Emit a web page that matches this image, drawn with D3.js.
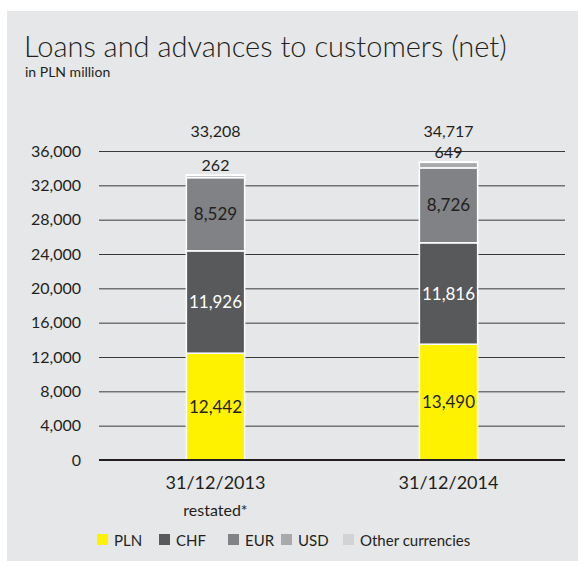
<!DOCTYPE html>
<html>
<head>
<meta charset="utf-8">
<script src="https://cdn.jsdelivr.net/npm/d3@7"></script>
<style>
  html, body { margin: 0; padding: 0; background: #ffffff; }
  svg { display: block; }
  text { font-family: "Lato", "Noto Sans", sans-serif; fill: #231f20; }
</style>
</head>
<body>
<svg id="chart" width="578" height="566"></svg>
<script>
// Loans and advances to customers (net), in PLN million, by currency
const categories = ["31/12/2013", "31/12/2014"];
const subLabels = ["restated*", ""];
const seriesNames = ["PLN", "CHF", "EUR", "USD", "Other currencies"];
const pln = [12442, 13490];
const chf = [11926, 11816];
const eur = [8529, 8726];
const usd = [262, 649];
const other = [49, 36];
const totals = [33208, 34717];
const yTicks = [0, 4000, 8000, 12000, 16000, 20000, 24000, 28000, 32000, 36000];

const colors = ["#fff200", "#58595b", "#808285", "#a7a9ac", "#d1d3d4"];
const labelColors = ["#231f20", "#ffffff", "#231f20", "#231f20", "#231f20"];

const svg = d3.select("#chart");
const fmt = d3.format(",");

// panel background
svg.append("rect").attr("x", 7).attr("y", 11).attr("width", 571).attr("height", 550)
  .attr("fill", "#e6e7e8");

// titles
svg.append("text").attr("x", 24).attr("y", 57).attr("font-size", 29)
  .attr("font-weight", 300).text("Loans and advances to customers (net)");
svg.append("text").attr("x", 25).attr("y", 77).attr("font-size", 14)
  .text("in PLN million");

const x = d3.scaleBand().domain(categories).range([99, 565])
  .paddingInner(0.75).paddingOuter(0.375);
const y = d3.scaleLinear().domain([0, 36000]).range([460, 151]);

// gridlines + axis labels
const yAxis = d3.axisLeft(y).tickValues(yTicks).tickFormat(fmt)
  .tickSize(-(565 - 99)).tickPadding(18);
const gy = svg.append("g").attr("transform", "translate(99,0)").call(yAxis);
gy.select(".domain").remove();
gy.selectAll(".tick line").attr("stroke", "#3a3a3a").attr("stroke-width", 1);
gy.selectAll(".tick text").attr("font-size", 16).attr("fill", "#231f20")
  .style("font-family", "Lato, 'Noto Sans', sans-serif");

// stacked data
const rows = categories.map((c, i) => ({
  cat: c, PLN: pln[i], CHF: chf[i], EUR: eur[i], USD: usd[i], "Other currencies": other[i]
}));
const stack = d3.stack().keys(seriesNames)(rows);

const layers = svg.append("g").selectAll("g").data(stack).join("g")
  .attr("fill", (d, i) => colors[i]);
layers.selectAll("rect").data(d => d).join("rect")
  .attr("x", d => x(d.data.cat))
  .attr("width", x.bandwidth())
  .attr("y", d => y(d[1]))
  .attr("height", d => y(d[0]) - y(d[1]))
  .attr("stroke", "#ffffff").attr("stroke-width", 1.5);

// baseline
svg.append("line").attr("x1", 99).attr("x2", 565).attr("y1", y(0)).attr("y2", y(0))
  .attr("stroke", "#231f20").attr("stroke-width", 2);

// segment labels for PLN, CHF, EUR
stack.slice(0, 3).forEach((layer, si) => {
  svg.append("g").selectAll("text").data(layer).join("text")
    .attr("x", d => x(d.data.cat) + x.bandwidth() / 2)
    .attr("y", d => (y(d[0]) + y(d[1])) / 2 + 6)
    .attr("text-anchor", "middle").attr("font-size", 17)
    .style("fill", labelColors[si])
    .text(d => fmt(d[1] - d[0]));
});

// USD label above the bar
svg.append("g").selectAll("text").data(stack[3]).join("text")
  .attr("x", d => x(d.data.cat) + x.bandwidth() / 2)
  .attr("y", (d, i) => y(totals[i]) - 4)
  .attr("text-anchor", "middle").attr("font-size", 16)
  .text(d => fmt(d[1] - d[0]));

// totals
svg.append("g").selectAll("text").data(categories).join("text")
  .attr("x", d => x(d) + x.bandwidth() / 2)
  .attr("y", 137)
  .attr("text-anchor", "middle").attr("font-size", 16)
  .text((d, i) => fmt(totals[i]));

// category labels
svg.append("g").selectAll("text").data(categories).join("text")
  .attr("x", d => x(d) + x.bandwidth() / 2)
  .attr("y", 489)
  .attr("text-anchor", "middle").attr("font-size", 18)
  .text(d => d);
svg.append("g").selectAll("text").data(categories).join("text")
  .attr("x", d => x(d) + x.bandwidth() / 2)
  .attr("y", 516)
  .attr("text-anchor", "middle").attr("font-size", 16)
  .text((d, i) => subLabels[i]);

// legend
const legendX = [97, 159, 228, 281, 343];
const lg = svg.append("g").selectAll("g").data(seriesNames).join("g")
  .attr("transform", (d, i) => `translate(${legendX[i]},540)`);
lg.append("rect").attr("x", 0).attr("y", -6).attr("width", 11).attr("height", 11)
  .attr("fill", (d, i) => colors[i]);
lg.append("text").attr("x", 17).attr("y", 6).attr("font-size", 15).text(d => d);
</script>
</body>
</html>
